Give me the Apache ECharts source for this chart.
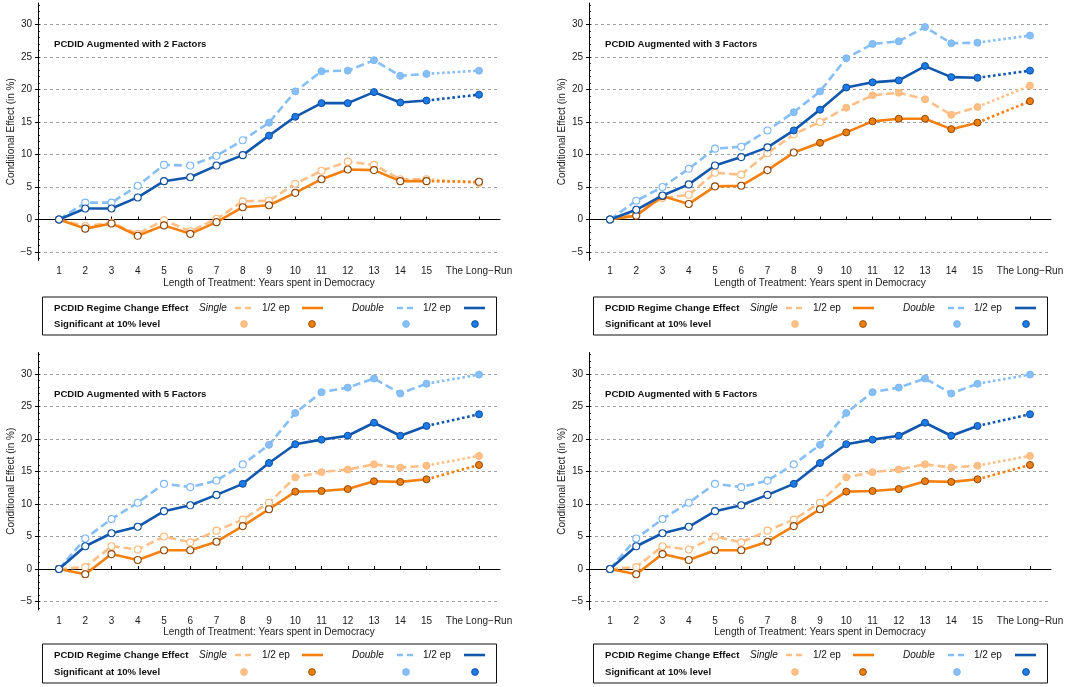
<!DOCTYPE html>
<html><head><meta charset="utf-8">
<script src="https://cdn.jsdelivr.net/npm/echarts@6/dist/echarts.min.js"></script>
<style>html,body{margin:0;padding:0;background:#fff}#c{width:1092px;height:687px}</style>
</head><body><div id="c"></div>
<script>
// ---------- data ----------
const xPositions = [1,2,3,4,5,6,7,8,9,10,11,12,13,14,15,17];
const xTickLabels = ['1','2','3','4','5','6','7','8','9','10','11','12','13','14','15','The Long\u2212Run'];
const yTickValues = [-5,0,5,10,15,20,25,30];
const yMinorTicks = [-6,-5,-4,-3,-2,-1,0,1,2,3,4,5,6,7,8,9,10,11,12,13,14,15,16,17,18,19,20,21,22,23,24,25,26,27,28,29,30,31,32,33];

const panelTitles = ['PCDID Augmented with 2 Factors','PCDID Augmented with 3 Factors','PCDID Augmented with 5 Factors','PCDID Augmented with 5 Factors'];

// 2 factors
const f2SingleHalf = [0,-1.0,-0.5,-2.2,-0.1,-1.8,0.1,2.8,2.9,5.5,7.5,8.9,8.4,6.2,6.2,5.6];
const f2Single     = [0,-1.4,-0.6,-2.5,-0.9,-2.2,-0.4,1.9,2.2,4.1,6.2,7.7,7.6,5.9,5.9,5.8];
const f2DoubleHalf = [0,2.6,2.6,5.2,8.4,8.3,9.8,12.2,14.9,19.7,22.8,22.9,24.5,22.1,22.4,22.9];
const f2Double     = [0,1.7,1.7,3.4,5.9,6.5,8.3,9.9,12.9,15.8,17.9,17.9,19.6,18.0,18.3,19.2];
const f2SigSingleHalf = [0,0,0,0,0,0,0,0,0,0,0,0,0,0,0,0];
const f2SigSingle     = [0,0,0,0,0,0,0,0,0,0,0,0,0,0,0,0];
const f2SigDoubleHalf = [0,0,0,0,0,0,0,0,1,1,1,1,1,1,1,1];
const f2SigDouble     = [0,0,0,0,0,0,0,0,1,1,1,1,1,1,1,1];

// 3 factors
const f3SingleHalf = [0,1.0,3.3,3.8,7.2,6.9,10.2,13.1,15.0,17.2,19.1,19.5,18.5,16.1,17.3,20.6];
const f3Single     = [0,0.6,3.6,2.4,5.1,5.2,7.6,10.3,11.8,13.4,15.1,15.5,15.5,13.9,14.9,18.2];
const f3DoubleHalf = [0,2.9,5.0,7.8,10.9,11.2,13.7,16.5,19.7,24.8,27.0,27.4,29.6,27.1,27.2,28.3];
const f3Double     = [0,1.5,3.7,5.4,8.3,9.6,11.1,13.7,16.9,20.3,21.1,21.4,23.6,21.9,21.8,22.9];
const f3SigSingleHalf = [0,0,0,0,0,0,0,0,0,1,1,1,1,1,1,1];
const f3SigSingle     = [0,0,0,0,0,0,0,0,1,1,1,1,1,1,1,1];
const f3SigDoubleHalf = [0,0,0,0,0,0,0,1,1,1,1,1,1,1,1,1];
const f3SigDouble     = [0,0,0,0,0,0,0,1,1,1,1,1,1,1,1,1];

// 5 factors
const f5SingleHalf = [0,0.3,3.5,3.0,5.0,4.1,5.9,7.6,10.2,14.1,14.9,15.3,16.1,15.6,15.9,17.4];
const f5Single     = [0,-0.8,2.3,1.4,2.9,2.9,4.2,6.6,9.2,11.9,12.0,12.3,13.5,13.4,13.8,16.0];
const f5DoubleHalf = [0,4.7,7.7,10.2,13.1,12.6,13.6,16.1,19.1,24.0,27.2,27.9,29.3,27.0,28.5,29.9];
const f5Double     = [0,3.5,5.5,6.5,8.9,9.8,11.4,13.1,16.3,19.2,19.9,20.5,22.5,20.5,22.0,23.8];
const f5SigSingleHalf = [0,0,0,0,0,0,0,0,0,1,1,1,1,1,1,1];
const f5SigSingle     = [0,0,0,0,0,0,0,0,0,1,1,1,1,1,1,1];
const f5SigDoubleHalf = [0,0,0,0,0,0,0,0,1,1,1,1,1,1,1,1];
const f5SigDouble     = [0,0,0,0,0,0,0,1,1,1,1,1,1,1,1,1];

// ---------- styles ----------
const FONT = '"Liberation Sans", Arial, Helvetica, sans-serif';
const STY = {
  sH: {line:'#FFBF86', fill:'#FFBF86', border:'#FFBA7E', type:[8,4]},
  s:  {line:'#F5800F', fill:'#F07F12', border:'#8F4708', type:'solid'},
  dH: {line:'#86BEF6', fill:'#86BEF6', border:'#7DB8F4', type:[8,4]},
  d:  {line:'#1157AE', fill:'#1C7BE6', border:'#0E4D9C', type:'solid'}
};

const panels = [
  {left:38,  top:3,     title:panelTitles[0], vals:{sH:f2SingleHalf,s:f2Single,dH:f2DoubleHalf,d:f2Double}, sig:{sH:f2SigSingleHalf,s:f2SigSingle,dH:f2SigDoubleHalf,d:f2SigDouble}, legendTop:296.5, legendH:38},
  {left:589, top:3,     title:panelTitles[1], vals:{sH:f3SingleHalf,s:f3Single,dH:f3DoubleHalf,d:f3Double}, sig:{sH:f3SigSingleHalf,s:f3SigSingle,dH:f3SigDoubleHalf,d:f3SigDouble}, legendTop:296.5, legendH:38},
  {left:38,  top:352.5, title:panelTitles[2], vals:{sH:f5SingleHalf,s:f5Single,dH:f5DoubleHalf,d:f5Double}, sig:{sH:f5SigSingleHalf,s:f5SigSingle,dH:f5SigDoubleHalf,d:f5SigDouble}, legendTop:643.5, legendH:39},
  {left:589, top:352.5, title:panelTitles[3], vals:{sH:f5SingleHalf,s:f5Single,dH:f5DoubleHalf,d:f5Double}, sig:{sH:f5SigSingleHalf,s:f5SigSingle,dH:f5SigDoubleHalf,d:f5SigDouble}, legendTop:643.5, legendH:39}
];
const GW = 462, GH = 257.5;

function fmtY(v){ return v < 0 ? '\u2212' + Math.abs(v) : String(v); }
function pointItem(x, y, sig, c){
  return {value:[x,y], itemStyle: sig
    ? {color:c.fill, borderColor:c.border, borderWidth:1}
    : {color:'#ffffff', borderColor:c.border, borderWidth:1.1}};
}

const grids = [], xAxes = [], yAxes = [], series = [], titles = [], graphics = [];

panels.forEach((p, i) => {
  grids.push({left:p.left, top:p.top, width:GW, height:GH, containLabel:false});
  xAxes.push({
    type:'value', gridIndex:i, min:0.2, max:17.8,
    name:'Length of Treatment: Years spent in Democracy', nameLocation:'middle', nameGap:17.5,
    nameTextStyle:{fontFamily:FONT, fontSize:10, color:'#222'},
    axisLine:{show:true, lineStyle:{color:'#000', width:1}},
    axisTick:{show:true, inside:true, length:3, customValues:xPositions, lineStyle:{color:'#000'}},
    axisLabel:{show:true, margin:6, customValues:xPositions, fontFamily:FONT, fontSize:10, color:'#1a1a1a',
      formatter: v => { const k = xPositions.indexOf(v); return k >= 0 ? xTickLabels[k] : ''; }},
    splitLine:{show:false}
  });
  yAxes.push({
    type:'value', gridIndex:i, min:-6.3, max:33.3, position:'left',
    name:'Conditional Effect (in %)', nameLocation:'middle', nameGap:20, nameRotate:90,
    nameTextStyle:{fontFamily:FONT, fontSize:10, color:'#222'},
    axisLine:{show:true, lineStyle:{color:'#000', width:1}},
    axisTick:{show:true, inside:false, length:3, customValues:yTickValues, lineStyle:{color:'#000'}},
    axisLabel:{show:true, margin:6, customValues:yTickValues, fontFamily:FONT, fontSize:10, color:'#1a1a1a', formatter:fmtY},
    splitLine:{show:true, lineStyle:{color:['#a0a0a0','#000000','#a0a0a0','#a0a0a0','#a0a0a0','#a0a0a0','#a0a0a0','#a0a0a0'], width:1, type:[3,3]}}
  });
  yAxes.push({
    type:'value', gridIndex:i, min:-6.3, max:33.3, position:'left',
    axisLine:{show:false},
    axisTick:{show:true, inside:true, length:2, customValues:yMinorTicks, lineStyle:{color:'#000', width:0.8}},
    axisLabel:{show:false}, splitLine:{show:false}
  });

  ['sH','s','dH','d'].forEach((key, j) => {
    const c = STY[key], vals = p.vals[key], sig = p.sig[key];
    // dotted tail 15 -> long run
    series.push({
      type:'line', xAxisIndex:i, yAxisIndex:2*i, z:2+j, silent:true, animation:false,
      symbol:'circle', symbolSize:7, showSymbol:true,
      lineStyle:{color:c.line, width:2.6, type:[2.6,2.6]},
      data:[{value:[xPositions[14], vals[14]], symbol:'none'}, pointItem(xPositions[15], vals[15], sig[15], c)]
    });
    const main = [];
    for (let k = 0; k < 15; k++) main.push(pointItem(xPositions[k], vals[k], sig[k], c));
    series.push({
      type:'line', xAxisIndex:i, yAxisIndex:2*i, z:2+j, silent:true, animation:false,
      symbol:'circle', symbolSize:7, showSymbol:true,
      lineStyle:{color:c.line, width:2.6, type:c.type},
      data:main
    });
  });

  titles.push({text:p.title, left:p.left + 11, top:p.top + 31.5,
    textStyle:{fontFamily:FONT, fontSize:9.6, fontWeight:'bold', color:'#111'}});

  // legend box
  const L = p.left, T = p.legendTop, H = p.legendH;
  const r1 = T + 11.5, r2 = T + H - 10.5;
  graphics.push({type:'rect', shape:{x:L + 4.5, y:T + 0.5, width:454, height:H}, style:{fill:'#fff', stroke:'#111', lineWidth:1}, z:10});
  const txt = (x, y, t, font) => graphics.push({type:'text', x:x, y:y, z:11,
    style:{text:t, font:font, fill:'#111', verticalAlign:'middle', align:'left'}});
  txt(L + 16, r1, 'PCDID Regime Change Effect', 'bold 9.6px ' + FONT);
  txt(L + 16, r2, 'Significant at 10% level', 'bold 9.6px ' + FONT);
  txt(L + 161, r1, 'Single', 'italic 10px ' + FONT);
  txt(L + 224, r1, '1/2 ep', '10px ' + FONT);
  txt(L + 314, r1, 'Double', 'italic 10px ' + FONT);
  txt(L + 385, r1, '1/2 ep', '10px ' + FONT);
  const seg = (x1, x2, y, col, dash) => graphics.push({type:'line', z:11,
    shape:{x1:x1, y1:y, x2:x2, y2:y}, style:{stroke:col, lineWidth:2.6, lineDash:dash}});
  seg(L + 197, L + 214, r1, STY.sH.line, [6,4]);
  seg(L + 264, L + 285, r1, STY.s.line, null);
  seg(L + 359, L + 376, r1, STY.dH.line, [6,4]);
  seg(L + 426, L + 447, r1, STY.d.line, null);
  const dot = (cx, key) => graphics.push({type:'circle', z:11,
    shape:{cx:cx, cy:r2, r:3.4}, style:{fill:STY[key].fill, stroke:STY[key].border, lineWidth:0.9}});
  dot(L + 206, 'sH'); dot(L + 274, 's'); dot(L + 368, 'dH'); dot(L + 437, 'd');
});

const chart = echarts.init(document.getElementById('c'), null, {renderer:'canvas'});
chart.setOption({
  animation:false,
  backgroundColor:'#fff',
  title:titles,
  grid:grids, xAxis:xAxes, yAxis:yAxes, series:series,
  graphic:graphics
});
</script>
</body></html>
